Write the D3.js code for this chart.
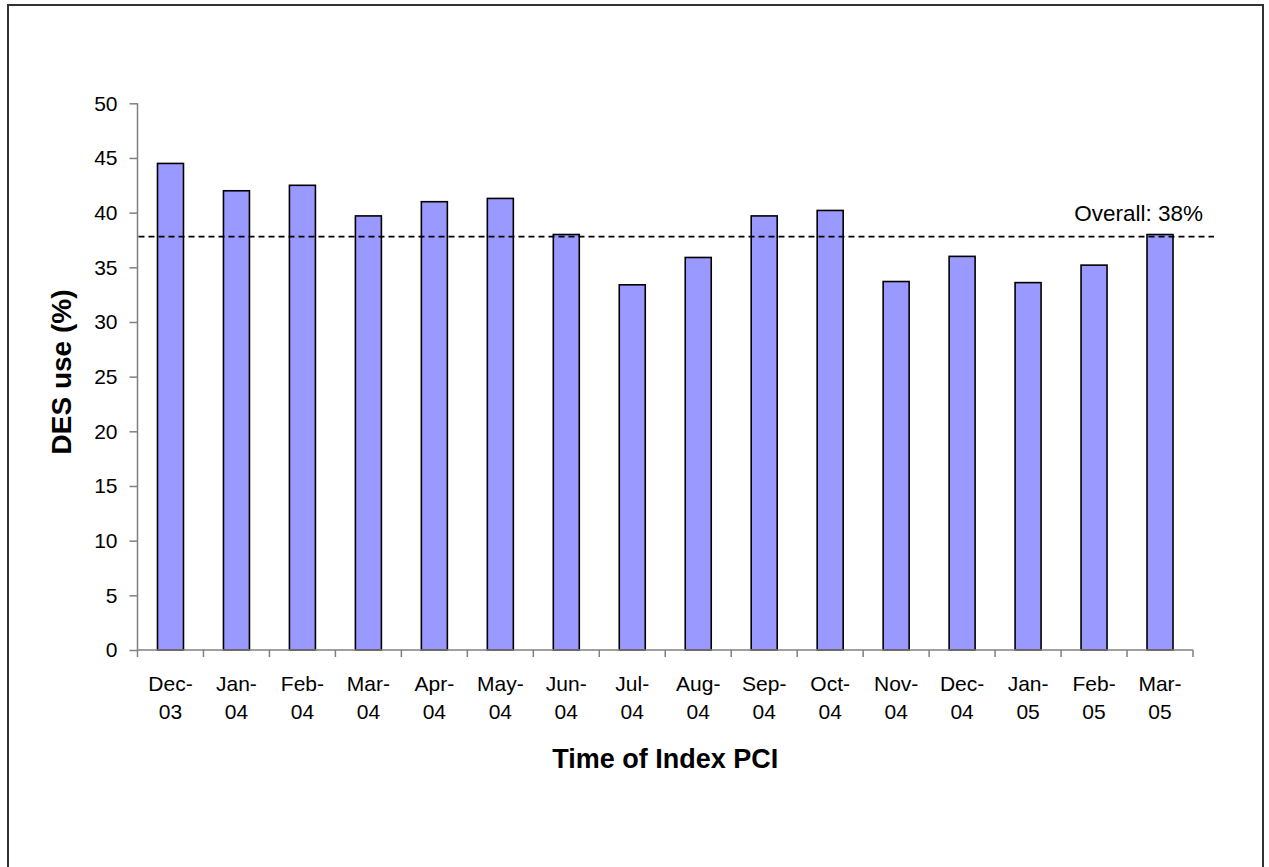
<!DOCTYPE html>
<html><head><meta charset="utf-8">
<script src="https://cdn.jsdelivr.net/npm/d3@7"></script>
<style>body{margin:0;background:#fff}svg{display:block}text{font-family:"Liberation Sans",Arial,sans-serif}</style>
</head><body>
<script>
const months = ["Dec-","Jan-","Feb-","Mar-","Apr-","May-","Jun-","Jul-","Aug-","Sep-","Oct-","Nov-","Dec-","Jan-","Feb-","Mar-"];
const years  = ["03","04","04","04","04","04","04","04","04","04","04","04","04","05","05","05"];
const desUse = [44.5,42.0,42.5,39.7,41.0,41.3,38.0,33.4,35.9,39.7,40.2,33.7,36.0,33.6,35.2,38.0];
const overall = 37.8;
const overallLabel = "Overall: 38%";
const yTicks = [0,5,10,15,20,25,30,35,40,45,50];

const W = 1269, H = 867;
const svg = d3.select("body").append("svg").attr("width", W).attr("height", H);

svg.append("rect").attr("x",8).attr("y",5).attr("width",1255).attr("height",880)
  .attr("fill","none").attr("stroke","#333").attr("stroke-width",2);

const pL = 137.5, pR = 1193, pT = 103.3, pB = 650;
const idx = desUse.map((d,i)=>i);
const x = d3.scaleBand().domain(idx).range([pL,pR]).paddingInner(0.606).paddingOuter(0.303);
const y = d3.scaleLinear().domain([0,50]).range([pB,pT]);
const step = x.step();

// bars
svg.append("g").selectAll("rect").data(desUse).join("rect")
  .attr("x",(d,i)=>x(i)).attr("y",d=>y(d))
  .attr("width",x.bandwidth()).attr("height",d=>y(0)-y(d))
  .attr("fill","#9999ff").attr("stroke","#000").attr("stroke-width",1.6);

// y axis
const yAxis = svg.append("g").attr("transform",`translate(${pL},0)`)
  .call(d3.axisLeft(y).tickValues(yTicks).tickSize(8).tickPadding(12));
yAxis.select(".domain").attr("stroke","#808080").attr("stroke-width",1.5).attr("d",`M0,${pT}V${pB}`);
yAxis.selectAll(".tick line").attr("stroke","#808080").attr("stroke-width",1.5);
yAxis.selectAll(".tick text").attr("font-size",21).attr("fill","#000").attr("font-family","Liberation Sans, Arial, sans-serif");

// x axis
const bounds = idx.map(i=>x(i)+x.bandwidth()/2-step/2).concat([pR]);
const xg = svg.append("g");
xg.append("line").attr("x1",pL).attr("x2",pR).attr("y1",y(0)).attr("y2",y(0))
  .attr("stroke","#808080").attr("stroke-width",1.5);
xg.selectAll("line.tk").data(bounds).join("line").attr("class","tk")
  .attr("x1",d=>d).attr("x2",d=>d).attr("y1",y(0)).attr("y2",y(0)+7)
  .attr("stroke","#808080").attr("stroke-width",1.5);
const lab = xg.selectAll("text").data(idx).join("text")
  .attr("text-anchor","middle").attr("font-size",21).attr("fill","#000");
lab.append("tspan").attr("x",i=>x(i)+x.bandwidth()/2).attr("y",691).text(i=>months[i]);
lab.append("tspan").attr("x",i=>x(i)+x.bandwidth()/2).attr("y",719).text(i=>years[i]);

// overall line
svg.append("line").attr("x1",pL+1).attr("x2",1214).attr("y1",y(overall)).attr("y2",y(overall))
  .attr("stroke","#000").attr("stroke-width",1.8).attr("stroke-dasharray","6,4");
svg.append("text").attr("x",1203).attr("y",221).attr("text-anchor","end")
  .attr("font-size",22.5).attr("fill","#000").text(overallLabel);

// titles
svg.append("text").attr("x",(pL+pR)/2).attr("y",768).attr("text-anchor","middle")
  .attr("font-size",27).attr("font-weight","bold").text("Time of Index PCI");
svg.append("text").attr("transform","translate(71,372) rotate(-90)").attr("text-anchor","middle")
  .attr("font-size",28).attr("font-weight","bold").text("DES use (%)");
</script>
</body></html>
